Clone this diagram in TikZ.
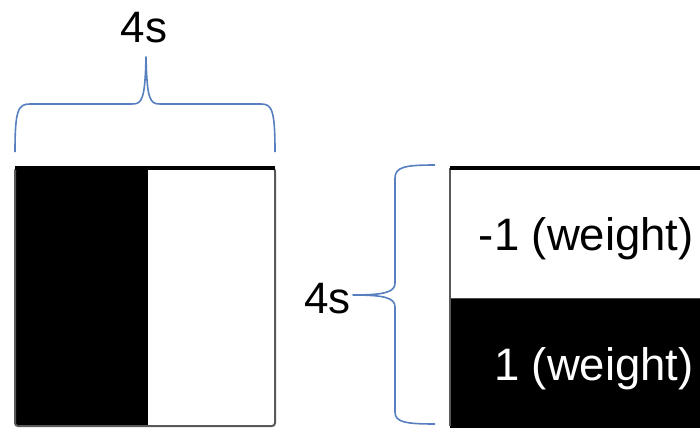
\documentclass[tikz,border=0pt]{standalone}
\usepackage{fontspec}
\setmainfont{Liberation Sans}
\begin{document}
\begin{tikzpicture}[x=1pt,y=-1pt,
  brace/.style={draw=braceblue,line width=1.6pt,line join=round},
  lbl/.style={inner sep=0pt,font=\fontsize{44}{44}\selectfont},
  wlbl/.style={inner sep=0pt,font=\fontsize{45.5}{45.5}\selectfont},
  frameedge/.style={draw=black!65,line width=2pt},
  topedge/.style={draw=black,line width=4.5pt}]
\definecolor{braceblue}{RGB}{88,128,192}
\useasboundingbox (0,0) rectangle (700,428);
\fill[white] (0,0) rectangle (700,428);

% left pattern: black left half, white right half
\fill[black] (15,168) rectangle (148,426);
\draw[frameedge,rounded corners=3pt] (15,168) rectangle (275,426);
\draw[topedge] (15,168) -- (275,168);

% right pattern: white top half, black bottom half
\fill[black] (450,298) rectangle (710,428);
\draw[frameedge] (450,426) -- (450,168);
\draw[topedge] (450,168) -- (710,168);
\draw[black!70,line width=1pt] (450,298) -- (710,298);

% labels
\node[lbl,anchor=base] (wtop) at (144,43) {4s};
\node[lbl,anchor=base east] (hleft) at (351,313) {4s};
\node[wlbl,anchor=base east] (wneg) at (694,250) {-1 (weight)};
\node[wlbl,anchor=base east,text=white] (wpos) at (694,380) {1 (weight)};

% horizontal brace over the left pattern
\path[brace] (15,152) .. controls (15,110) and (18,104) .. (30,104) -- (132,104)
  .. controls (142,104) and (145,100) .. (146,57)
  .. controls (147,100) and (150,104) .. (160,104) -- (261,104)
  .. controls (272,104) and (275,110) .. (275,152);

% vertical brace beside the right pattern
\path[brace] (435,165) .. controls (405,165) and (395,167) .. (395,178) -- (395,283)
  .. controls (395,292) and (385,295) .. (353,295)
  .. controls (385,295) and (395,298) .. (395,307) -- (395,412)
  .. controls (395,422) and (405,424) .. (435,424);
\end{tikzpicture}
\end{document}
